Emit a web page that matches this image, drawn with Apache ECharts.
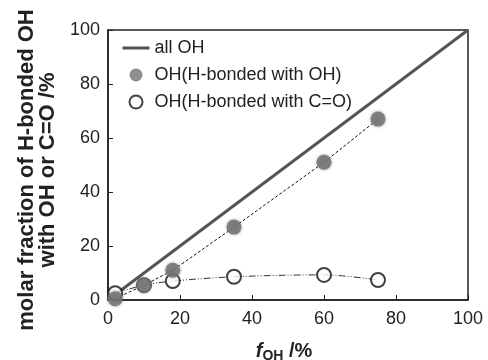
<!DOCTYPE html>
<html>
<head>
<meta charset="utf-8">
<script src="https://cdn.jsdelivr.net/npm/echarts@6/dist/echarts.min.js"></script>
<style>
  html, body { margin: 0; padding: 0; background: #fff; }
  #chart { width: 488px; height: 360px; }
</style>
</head>
<body>
<div id="chart"></div>
<script>
// f_OH (%) of the measured samples
var fOH = [2, 10, 18, 35, 60, 75];
// OH H-bonded with OH (%)
var withOH = [0.5, 5.5, 11, 27, 51, 67];
// OH H-bonded with C=O (%)
var withCO = [2.5, 5.5, 7, 8.6, 9.3, 7.4];
// all OH reference line
var allX = [0, 100];
var allY = [0, 100];
var ticks = [0, 20, 40, 60, 80, 100];

function pairs(xs, ys) {
  return xs.map(function (x, i) { return [x, ys[i]]; });
}

var myChart = echarts.init(document.getElementById('chart'));

var axisCommon = {
  type: 'value',
  min: ticks[0],
  max: ticks[ticks.length - 1],
  interval: ticks[1] - ticks[0],
  splitLine: { show: false },
  axisLine: { show: true, lineStyle: { color: '#222', width: 1.5 } },
  axisTick: { show: true, inside: true, length: 5, lineStyle: { color: '#222', width: 1 } },
  axisLabel: { fontFamily: 'Liberation Sans, Arial', fontSize: 18, color: '#222' }
};

var option = {
  animation: false,
  grid: {
    left: 108, right: 20, top: 30, bottom: 60,
    outerBoundsMode: 'none',
    show: true, borderColor: '#222', borderWidth: 1.5
  },
  legend: {
    orient: 'vertical',
    left: 116,
    top: 34,
    itemWidth: 27,
    itemHeight: 13,
    itemGap: 9,
    textStyle: { fontFamily: 'Liberation Sans, Arial', fontSize: 18, color: '#222', lineHeight: 18 },
    data: [
      { name: 'all OH', itemStyle: { opacity: 0 }, lineStyle: { width: 3, color: '#555' } },
      'OH(H-bonded with OH)',
      'OH(H-bonded with C=O)'
    ]
  },
  xAxis: Object.assign({}, axisCommon, {
    axisLabel: Object.assign({}, axisCommon.axisLabel, { margin: 10 }),
    name: '{f|f}{sub|OH}{n| /%}',
    nameLocation: 'middle',
    nameGap: 39,
    nameTextStyle: {
      padding: [0, 8, 0, 0],
      rich: {
        f: { fontFamily: 'Liberation Sans, Arial', fontSize: 20, fontWeight: 'bold', fontStyle: 'italic', color: '#222' },
        sub: { fontFamily: 'Liberation Sans, Arial', fontSize: 14, fontWeight: 'bold', color: '#222', padding: [10, 0, 0, 0] },
        n: { fontFamily: 'Liberation Sans, Arial', fontSize: 20, fontWeight: 'bold', color: '#222' }
      }
    }
  }),
  yAxis: Object.assign({}, axisCommon, {
    axisLabel: Object.assign({}, axisCommon.axisLabel, { margin: 8 }),
    name: 'molar fraction of H-bonded OH\nwith OH or C=O /%',
    nameLocation: 'middle',
    nameRotate: 90,
    nameGap: 50,
    nameTextStyle: {
      fontFamily: 'Liberation Sans, Arial', fontSize: 22, fontWeight: 'bold',
      color: '#222', lineHeight: 21, padding: [0, 10, 0, 0]
    }
  }),
  series: [
    {
      name: 'all OH',
      type: 'line',
      data: pairs(allX, allY),
      symbol: 'none',
      lineStyle: { color: '#555', width: 3 },
      itemStyle: { color: '#555' },
      z: 2
    },
    {
      // trend through OH-OH points
      type: 'line',
      data: pairs(fOH, withOH),
      symbol: 'none',
      silent: true,
      lineStyle: { color: '#111', width: 1, type: [3, 2] },
      z: 3
    },
    {
      // trend through OH-C=O points
      type: 'line',
      data: pairs(fOH, withCO),
      symbol: 'none',
      smooth: 0.35,
      silent: true,
      lineStyle: { color: '#333', width: 1, type: [7, 2, 1, 2, 1, 2] },
      z: 3
    },
    {
      name: 'OH(H-bonded with C=O)',
      type: 'scatter',
      data: pairs(fOH, withCO),
      symbol: 'circle',
      symbolSize: 14,
      itemStyle: { color: '#fff', borderColor: '#111', borderWidth: 2 },
      z: 4
    },
    {
      name: 'OH(H-bonded with OH)',
      type: 'scatter',
      data: pairs(fOH, withOH),
      symbol: 'circle',
      symbolSize: 15,
      itemStyle: { color: '#727272', shadowBlur: 3, shadowColor: 'rgba(110,110,110,0.8)' },
      z: 5
    }
  ]
};

myChart.setOption(option);
</script>
</body>
</html>
